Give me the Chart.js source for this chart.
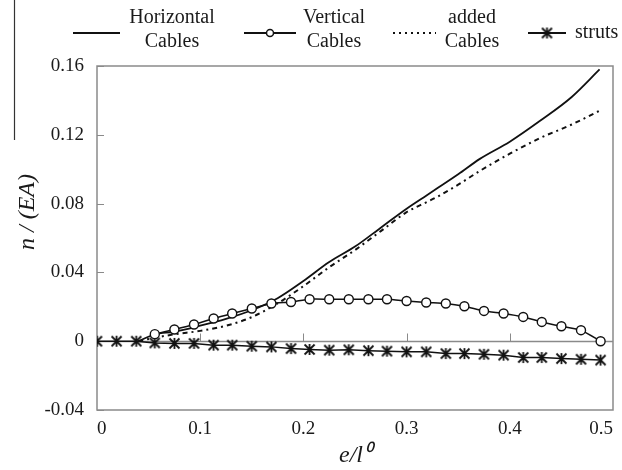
<!DOCTYPE html>
<html>
<head>
<meta charset="utf-8">
<script src="https://cdn.jsdelivr.net/npm/chart.js@4.4.1/dist/chart.umd.min.js"></script>
<style>
    html, body { margin: 0; padding: 0; background: #fff; }
    #wrap { width: 622px; height: 470px; position: relative; }
</style>
</head>
<body>
<div id="wrap"><canvas id="chart" width="622" height="470"></canvas></div>
<script>
// e / l0 positions of the two smooth lines
const eLines = [0.04, 0.056, 0.075, 0.1, 0.125, 0.15, 0.175, 0.2, 0.225, 0.25, 0.275, 0.3, 0.32, 0.33, 0.35, 0.371, 0.4, 0.429, 0.46, 0.487];
const horizontalCables = [0, 0.004, 0.0055, 0.009, 0.013, 0.018, 0.025, 0.035, 0.046, 0.055, 0.066, 0.077, 0.085, 0.089, 0.097, 0.106, 0.116, 0.128, 0.142, 0.158];
const addedCables = [0, 0.002, 0.004, 0.006, 0.009, 0.014, 0.022, 0.032, 0.043, 0.053, 0.064, 0.075, 0.081, 0.084, 0.091, 0.099, 0.109, 0.118, 0.126, 0.134];

// e / l0 positions of the marked series
const eMarks = [0, 0.019, 0.038, 0.056, 0.075, 0.094, 0.113, 0.131, 0.15, 0.169, 0.188, 0.206, 0.225, 0.244,
    0.263, 0.281, 0.3, 0.319, 0.338, 0.356, 0.375, 0.394, 0.413, 0.431, 0.45, 0.469, 0.488];
const verticalCables = [null, null, null, 0.0041, 0.0068, 0.0097, 0.0132, 0.0161, 0.019, 0.0219, 0.0228, 0.0244, 0.0244, 0.0244,
    0.0244, 0.0244, 0.0234, 0.0225, 0.0219, 0.0203, 0.0176, 0.0161, 0.0141, 0.0112, 0.0087, 0.0064, 0];
const struts = [0, 0, 0, -0.001, -0.0013, -0.0013, -0.0023, -0.0023, -0.0029, -0.0033, -0.0043, -0.0048, -0.0052, -0.005,
    -0.0055, -0.0058, -0.0062, -0.0062, -0.0072, -0.0072, -0.0076, -0.0081, -0.0095, -0.0095, -0.0101, -0.0105, -0.011];

const xTicks = [0, 0.1, 0.2, 0.3, 0.4, 0.5];
const yTicks = [-0.04, 0, 0.04, 0.08, 0.12, 0.16];

const SERIF = '"Liberation Serif", "Times New Roman", serif';
const FRAME = '#8a8a8a';

// Ж-like marker for the struts
function makeStrutMark() {
    const c = document.createElement('canvas');
    c.width = 13; c.height = 13;
    const g = c.getContext('2d');
    g.strokeStyle = '#111';
    g.lineWidth = 1.8;
    g.beginPath();
    g.moveTo(6.5, 1); g.lineTo(6.5, 12);
    g.moveTo(1.5, 1.5); g.lineTo(11.5, 11.5);
    g.moveTo(11.5, 1.5); g.lineTo(1.5, 11.5);
    g.stroke();
    return c;
}
const strutMark = makeStrutMark();

const pairs = (xs, ys) => xs.map((x, i) => ({ x, y: ys[i] }));

const framePlugin = {
    id: 'frame',
    beforeDatasetsDraw(chart) {
        const { ctx, chartArea: a, scales } = chart;
        ctx.save();
        ctx.strokeStyle = FRAME;
        ctx.lineWidth = 1.5;
        ctx.strokeRect(a.left, a.top, a.right - a.left, a.bottom - a.top);
        // y ticks pointing inward
        ctx.lineWidth = 1;
        yTicks.forEach(v => {
            const y = Math.round(scales.y.getPixelForValue(v)) + 0.5;
            ctx.beginPath(); ctx.moveTo(a.left, y); ctx.lineTo(a.left + 7, y); ctx.stroke();
        });
        // x axis crossing at zero, ticks pointing up
        const y0 = Math.round(scales.y.getPixelForValue(0)) + 0.5;
        ctx.lineWidth = 1.3;
        ctx.beginPath(); ctx.moveTo(a.left, y0); ctx.lineTo(a.right, y0); ctx.stroke();
        ctx.lineWidth = 1;
        xTicks.slice(1, -1).forEach(v => {
            const x = Math.round(scales.x.getPixelForValue(v)) + 0.5;
            ctx.beginPath(); ctx.moveTo(x, y0); ctx.lineTo(x, y0 - 8); ctx.stroke();
        });
        ctx.restore();
    },
    afterDraw(chart) {
        const { ctx } = chart;
        ctx.save();
        ctx.fillStyle = '#1a1a1a';
        ctx.strokeStyle = '#111';

        // y title
        ctx.save();
        ctx.translate(28, 212);
        ctx.rotate(-Math.PI / 2);
        ctx.font = 'italic 24px ' + SERIF;
        ctx.textAlign = 'center';
        ctx.textBaseline = 'middle';
        ctx.fillText('n / (EA)', 0, 0);
        ctx.restore();

        // stray rule at top left
        ctx.lineWidth = 1.2;
        ctx.strokeStyle = '#333';
        ctx.beginPath(); ctx.moveTo(14.5, 0); ctx.lineTo(14.5, 140); ctx.stroke();

        // legend
        const ly = 33;
        ctx.font = '20px ' + SERIF;
        ctx.textAlign = 'center';
        ctx.textBaseline = 'middle';
        ctx.strokeStyle = '#111';
        ctx.lineWidth = 2;

        ctx.beginPath(); ctx.moveTo(73, ly); ctx.lineTo(120, ly); ctx.stroke();
        ctx.fillText('Horizontal', 172, 18);
        ctx.fillText('Cables', 172, 42);

        ctx.beginPath(); ctx.moveTo(244, ly); ctx.lineTo(296, ly); ctx.stroke();
        ctx.beginPath(); ctx.arc(270, ly, 3.5, 0, Math.PI * 2);
        ctx.fillStyle = '#fff'; ctx.fill();
        ctx.lineWidth = 1.5; ctx.stroke();
        ctx.fillStyle = '#1a1a1a';
        ctx.fillText('Vertical', 334, 18);
        ctx.fillText('Cables', 334, 42);

        ctx.lineWidth = 2;
        ctx.setLineDash([2, 4]);
        ctx.beginPath(); ctx.moveTo(393, ly); ctx.lineTo(436, ly); ctx.stroke();
        ctx.setLineDash([]);
        ctx.fillText('added', 472, 18);
        ctx.fillText('Cables', 472, 42);

        ctx.beginPath(); ctx.moveTo(528, ly); ctx.lineTo(566, ly); ctx.stroke();
        ctx.drawImage(strutMark, 547 - 6.5, ly - 6.5);
        ctx.textAlign = 'left';
        ctx.fillText('struts', 575, ly);
        ctx.restore();
    }
};

new Chart(document.getElementById('chart'), {
    type: 'line',
    data: {
        datasets: [
            {
                label: 'struts',
                data: pairs(eMarks, struts),
                borderColor: '#111',
                borderWidth: 1.5,
                pointStyle: strutMark,
                pointRadius: 6,
                order: 4
            },
            {
                label: 'Vertical Cables',
                data: pairs(eMarks, verticalCables),
                borderColor: '#111',
                borderWidth: 1.5,
                pointStyle: 'circle',
                pointRadius: 4.5,
                pointBorderWidth: 1.4,
                pointBackgroundColor: '#fff',
                pointBorderColor: '#111',
                tension: 0.2,
                order: 1
            },
            {
                label: 'Horizontal Cables',
                data: pairs(eLines, horizontalCables),
                borderColor: '#111',
                borderWidth: 1.8,
                pointRadius: 0,
                cubicInterpolationMode: 'monotone',
                order: 2
            },
            {
                label: 'added Cables',
                data: pairs(eLines, addedCables),
                borderColor: '#111',
                borderWidth: 2,
                borderDash: [5, 4, 2, 4],
                pointRadius: 0,
                cubicInterpolationMode: 'monotone',
                order: 3
            }
        ]
    },
    options: {
        responsive: false,
        animation: false,
        events: [],
        layout: { padding: { left: 0, top: 66, right: 9, bottom: 0 } },
        plugins: {
            legend: { display: false },
            tooltip: { enabled: false }
        },
        scales: {
            x: {
                type: 'linear',
                min: 0,
                max: 0.5,
                border: { display: false },
                grid: { display: false, drawTicks: false },
                afterBuildTicks: s => { s.ticks = xTicks.map(v => ({ value: v })); },
                afterFit: s => { s.height = 60; s.paddingLeft = 0; s.paddingRight = 0; },
                ticks: {
                    padding: 8,
                    align: 'inner',
                    color: '#1a1a1a',
                    font: { family: SERIF, size: 19 },
                    maxRotation: 0,
                    callback: v => String(Number(v.toFixed(2)))
                },
                title: {
                    display: true,
                    text: 'e/l\u2070',
                    color: '#1a1a1a',
                    font: { family: SERIF, size: 24, style: 'italic' },
                    padding: { top: 0, bottom: 0 }
                }
            },
            y: {
                min: -0.04,
                max: 0.16,
                border: { display: false },
                grid: { display: false, drawTicks: false },
                afterBuildTicks: s => { s.ticks = yTicks.map(v => ({ value: v })); },
                afterFit: s => { s.width = 97; },
                ticks: {
                    padding: 13,
                    color: '#1a1a1a',
                    font: { family: SERIF, size: 19 },
                    callback: v => String(Number(v.toFixed(2)))
                }
            }
        }
    },
    plugins: [framePlugin]
});
</script>
</body>
</html>
